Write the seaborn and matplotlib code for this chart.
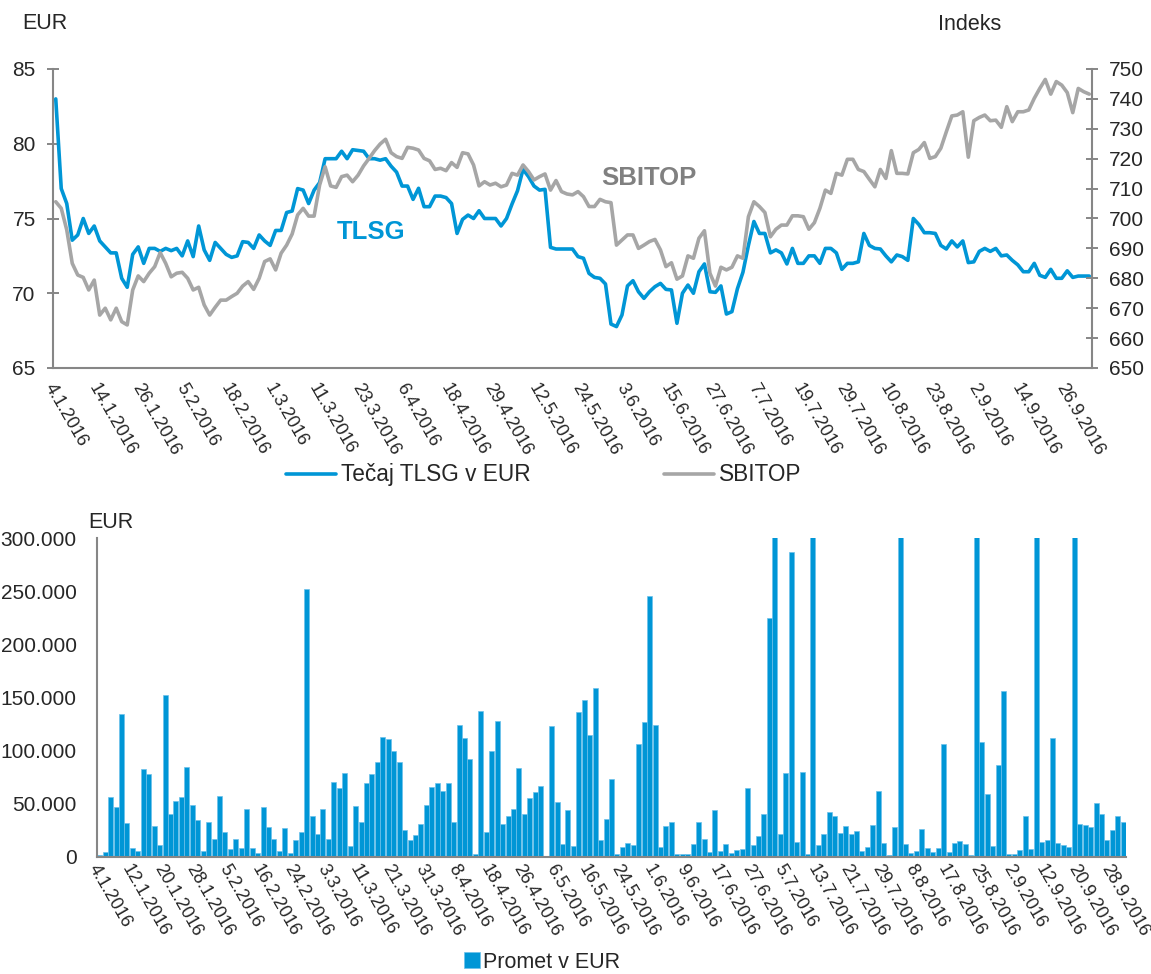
import numpy as np
import pandas as pd
import matplotlib
matplotlib.use("Agg")
import matplotlib.pyplot as plt
from matplotlib.ticker import FuncFormatter, FixedLocator
import seaborn as sns

# trading days of the Ljubljana stock exchange, 4.1.2016 - 30.9.2016
holidays = ["2016-01-01", "2016-02-08", "2016-03-25", "2016-03-28",
            "2016-04-27", "2016-05-02", "2016-08-15"]
dates = pd.bdate_range("2016-01-04", "2016-09-30", freq="C", holidays=holidays)
date_labels = [f"{d.day}.{d.month}.{d.year}" for d in dates]

# closing price of TLSG in EUR
tlsg = [
    83.0, 77.0, 76.0, 73.55, 73.9, 75.0, 74.0, 74.5, 73.5, 73.1,
    72.7, 72.7, 71.0, 70.4, 72.6, 73.1, 72.0, 73.0, 73.0, 72.8,
    73.0, 72.85, 73.0, 72.5, 73.5, 72.45, 74.5, 72.9, 72.2, 73.4,
    73.0, 72.6, 72.4, 72.5, 73.45, 73.4, 73.0, 73.9, 73.5, 73.2,
    74.2, 74.2, 75.4, 75.5, 77.0, 76.9, 76.0, 76.9, 77.4, 79.0,
    79.0, 79.0, 79.5, 79.0, 79.6, 79.55, 79.5, 79.0, 79.0, 78.9,
    79.0, 78.5, 78.1, 77.17, 77.17, 76.28, 77.02, 75.79, 75.79, 76.5,
    76.5, 76.4, 76.0, 74.0, 74.94, 75.23, 75.0, 75.52, 75.0, 75.0,
    75.0, 74.5, 75.0, 75.97, 76.86, 78.29, 77.8, 77.17, 76.9, 76.95,
    73.07, 72.96, 72.96, 72.96, 72.96, 72.45, 72.34, 71.33, 71.06, 71.0,
    70.62, 67.94, 67.77, 68.55, 70.49, 70.84, 70.1, 69.66, 70.1, 70.44,
    70.66, 70.26, 70.22, 67.99, 70.0, 70.55, 70.0, 71.44, 71.96, 70.1,
    70.06, 70.49, 68.61, 68.77, 70.3, 71.4, 73.2, 74.8, 74.0, 74.0,
    72.7, 72.9, 72.7, 71.96, 73.0, 72.0, 72.0, 72.5, 72.5, 72.0,
    73.0, 73.0, 72.7, 71.6, 72.0, 72.0, 72.1, 74.0, 73.2, 73.0,
    72.96, 72.5, 72.1, 72.56, 72.45, 72.2, 75.0, 74.6, 74.05, 74.05,
    74.0, 73.2, 72.96, 73.5, 73.1, 73.5, 72.05, 72.1, 72.8, 73.0,
    72.8, 73.0, 72.5, 72.56, 72.2, 71.9, 71.44, 71.44, 72.0, 71.2,
    71.06, 71.6, 71.0, 71.0, 71.5, 71.06, 71.15, 71.15, 71.15,
]

# SBITOP index
sbitop = [
    705.6, 703.4, 696.2, 685.0, 681.1, 680.3, 676.1, 679.4, 667.7, 670.0,
    666.1, 670.0, 665.5, 664.4, 676.1, 680.8, 678.9, 681.7, 683.9, 688.6,
    685.0, 680.5, 681.7, 682.0, 680.0, 676.1, 677.0, 671.1, 667.7, 670.3,
    672.7, 672.7, 673.9, 675.0, 677.4, 678.9, 676.3, 680.0, 685.6, 686.5,
    682.8, 688.4, 691.1, 694.8, 701.2, 703.4, 700.8, 700.8, 711.2, 717.3,
    710.9, 710.4, 714.0, 714.5, 712.3, 714.5, 717.6, 720.1, 722.7, 724.9,
    726.5, 722.0, 720.7, 720.1, 723.8, 723.5, 722.9, 720.1, 719.3, 716.4,
    716.8, 716.0, 718.7, 717.1, 722.0, 721.6, 717.9, 710.9, 712.3, 711.2,
    711.8, 710.6, 711.2, 715.1, 714.5, 717.9, 715.7, 712.9, 714.0, 714.9,
    709.5, 712.7, 709.0, 708.2, 707.9, 709.0, 707.3, 704.0, 704.0, 706.4,
    705.6, 705.3, 691.1, 692.8, 694.5, 694.5, 690.0, 691.1, 692.3, 693.0,
    689.5, 683.9, 685.2, 679.7, 680.8, 687.5, 686.7, 693.4, 695.9, 681.7,
    677.4, 683.7, 682.8, 683.7, 687.5, 686.7, 700.6, 705.6, 704.0, 702.0,
    693.9, 696.4, 697.8, 697.8, 700.9, 700.9, 700.6, 696.4, 698.6, 703.4,
    709.5, 708.4, 715.1, 714.5, 719.8, 719.8, 716.4, 715.7, 713.1, 710.6,
    716.4, 713.4, 722.7, 715.1, 715.1, 714.9, 722.0, 723.1, 725.4, 720.1,
    720.7, 723.5, 729.0, 734.3, 734.6, 735.7, 720.5, 732.7, 733.8, 734.6,
    732.7, 732.9, 730.5, 737.4, 732.4, 735.7, 735.7, 736.3, 740.2, 743.5,
    746.5, 741.6, 745.8, 744.6, 742.1, 735.4, 743.5, 742.4, 741.6,
]

# daily turnover, thousands of EUR (bars above 300.000 are cut off in the chart)
promet_k = [
    1.6, 4.7, 56.7, 47.2, 134.7, 32.1, 8.8, 5.4, 82.5, 77.7,
    29.0, 11.0, 152.7, 40.0, 52.9, 56.0, 85.0, 48.8, 34.6, 5.7,
    32.7, 17.3, 57.6, 23.9, 7.2, 17.3, 8.5, 45.6, 8.8, 4.1,
    46.6, 28.3, 16.7, 5.7, 27.4, 3.8, 15.7, 23.3, 251.8, 38.4,
    22.0, 45.3, 16.7, 70.8, 64.5, 79.3, 10.1, 47.8, 33.0, 69.2,
    78.1, 89.7, 112.4, 110.8, 100.1, 89.7, 25.2, 15.7, 20.5, 31.5,
    48.8, 66.1, 69.5, 62.3, 69.2, 33.0, 123.7, 111.7, 91.9, 2.5,
    137.6, 23.6, 99.8, 128.1, 30.8, 38.4, 45.3, 83.4, 40.0, 55.1,
    61.4, 66.7, 1.3, 122.8, 51.3, 12.6, 44.1, 10.4, 136.0, 147.9,
    114.9, 159.0, 15.7, 35.3, 73.3, 3.1, 9.4, 13.5, 11.6, 106.4,
    126.8, 245.5, 124.3, 9.4, 29.0, 32.7, 3.1, 2.5, 2.5, 12.6,
    32.7, 17.0, 4.7, 44.1, 5.4, 12.0, 4.1, 6.3, 7.9, 65.2,
    11.6, 19.8, 40.0, 224.4, 420.0, 22.0, 78.7, 287.1, 14.2, 79.6,
    2.5, 380.0, 11.0, 21.4, 42.5, 38.7, 22.7, 29.3, 21.4, 24.2,
    5.4, 9.4, 29.9, 62.3, 13.5, 1.6, 28.3, 350.0, 12.6, 3.8,
    5.4, 26.8, 8.8, 4.7, 8.5, 106.4, 4.4, 13.5, 15.1, 12.6,
    2.2, 400.0, 108.6, 59.2, 10.1, 86.6, 155.8, 2.5, 3.1, 6.3,
    38.4, 7.9, 330.0, 14.2, 15.7, 111.7, 13.2, 11.6, 9.4, 450.0,
    30.8, 30.2, 28.3, 50.4, 40.3, 15.7, 25.8, 38.7, 33.0,
]

df = pd.DataFrame({
    "dan": np.arange(len(dates)),
    "TLSG": tlsg,
    "SBITOP": sbitop,
    "Promet": np.array(promet_k) * 1000,
})

BLUE = "#0096d6"
GREY = "#a6a6a6"
AXIS = "#868686"
FS_Y = 15      # y tick labels
FS_X = 13      # rotated date labels
FS_T = 15.5    # axis titles, bottom legend
FS_L = 16.3    # top legend
ROT = -60

sns.set_theme(style="white")
plt.rcParams["font.family"] = ["Liberation Sans", "DejaVu Sans"]

W, H = 1151, 974
fig = plt.figure(figsize=(W / 100, H / 100), dpi=100)

# ---- top: price and index ----
ax1 = fig.add_axes([53 / W, 1 - 368 / H, (1092 - 53) / W, (368 - 69) / H])
sns.lineplot(data=df, x="dan", y="TLSG", ax=ax1, color=BLUE, lw=2.6,
             label="Tečaj TLSG v EUR", legend=False)
ax2 = ax1.twinx()
sns.lineplot(data=df, x="dan", y="SBITOP", ax=ax2, color=GREY, lw=2.6,
             label="SBITOP", legend=False)

n = len(df)
ax1.set_xlim(-0.5, n - 0.5)
ax1.set_ylim(65, 85)
ax2.set_ylim(650, 750)
ax1.set_yticks(range(65, 86, 5))
ax2.set_yticks(range(650, 751, 10))
for a in (ax1, ax2):
    a.set_xlabel("")
    a.set_ylabel("")

top_idx = list(range(0, n, 8))
ax1.set_xticks(top_idx)
ax1.set_xticklabels([date_labels[i] for i in top_idx], rotation=ROT,
                    ha="left", va="top", rotation_mode="anchor")
ax1.xaxis.set_minor_locator(FixedLocator(np.arange(-0.5, n, 2.5)))
ax1.tick_params(axis="x", which="major", length=0, pad=9, labelsize=FS_X)
ax1.tick_params(axis="x", which="minor", length=6, direction="inout",
                width=1, color=AXIS)
ax1.tick_params(axis="y", length=9, direction="inout", width=1.4,
                color=AXIS, labelsize=FS_Y, pad=8)
ax2.tick_params(axis="y", length=9, direction="inout", width=1.4,
                color=AXIS, labelsize=FS_Y, pad=8)

for s in ("top", "right"):
    ax1.spines[s].set_visible(False)
for s in ("top", "left", "bottom"):
    ax2.spines[s].set_visible(False)
for sp in (ax1.spines["left"], ax1.spines["bottom"], ax2.spines["right"]):
    sp.set_color(AXIS)
    sp.set_linewidth(1.5)

ax1.text(0.306, 0.455, "TLSG", transform=ax1.transAxes, ha="center",
         va="center", fontsize=18.5, fontweight="bold", color=BLUE)
ax1.text(0.5736, 0.6355, "SBITOP", transform=ax1.transAxes, ha="center",
         va="center", fontsize=18.5, fontweight="bold", color="#808080")

fig.text(22 / W, 1 - 23.5 / H, "EUR", ha="left", va="center", fontsize=FS_T)
fig.text(938 / W, 1 - 25 / H, "Indeks", ha="left", va="center", fontsize=FS_T)

h1, l1 = ax1.get_legend_handles_labels()
h2, l2 = ax2.get_legend_handles_labels()
fig.legend(h1 + h2, l1 + l2, loc="center", bbox_to_anchor=(544 / W, 1 - 475 / H),
           ncol=2, frameon=False, handlelength=2.2, columnspacing=5.9,
           handletextpad=0.22, fontsize=FS_L)

# ---- bottom: turnover ----
ax3 = fig.add_axes([97 / W, 1 - 857 / H, (1126 - 97) / W, (857 - 538) / H])
sns.barplot(data=df, x="dan", y="Promet", ax=ax3, color=BLUE, saturation=1,
            width=0.9, linewidth=0.5, edgecolor="#6cc0ea", label="Promet v EUR")
h3, l3 = ax3.get_legend_handles_labels()
if ax3.get_legend() is not None:
    ax3.get_legend().remove()

ax3.set_xlim(-0.5, n - 0.5)
ax3.set_ylim(0, 300000)
ax3.set_yticks(range(0, 300001, 50000))
ax3.yaxis.set_major_formatter(FuncFormatter(lambda v, p: f"{int(v):,}".replace(",", ".")))
ax3.set_xlabel("")
ax3.set_ylabel("")

bot_idx = list(range(0, n, 6))
ax3.set_xticks(bot_idx)
ax3.set_xticklabels([date_labels[i] for i in bot_idx], rotation=ROT,
                    ha="left", va="top", rotation_mode="anchor")
ax3.xaxis.set_minor_locator(FixedLocator(np.arange(-0.5, n, 8)))
ax3.tick_params(axis="x", which="major", length=0, pad=3.5, labelsize=FS_X)
ax3.tick_params(axis="x", which="minor", length=7, direction="inout",
                width=1, color="#a6a6a6")
ax3.tick_params(axis="y", length=9, direction="inout", width=1.4,
                color=AXIS, labelsize=FS_Y, pad=10)
for s in ("top", "right"):
    ax3.spines[s].set_visible(False)
for s in ("left", "bottom"):
    ax3.spines[s].set_color(AXIS)
    ax3.spines[s].set_linewidth(1.5)

fig.text(88 / W, 1 - 523 / H, "EUR", ha="left", va="center", fontsize=FS_T)

fig.legend(h3, l3, loc="center", bbox_to_anchor=(542 / W, 1 - 962 / H),
           frameon=False, handlelength=0.75, handleheight=0.75,
           handletextpad=0.15, fontsize=FS_T)

fig.savefig("out.png", dpi=100)
